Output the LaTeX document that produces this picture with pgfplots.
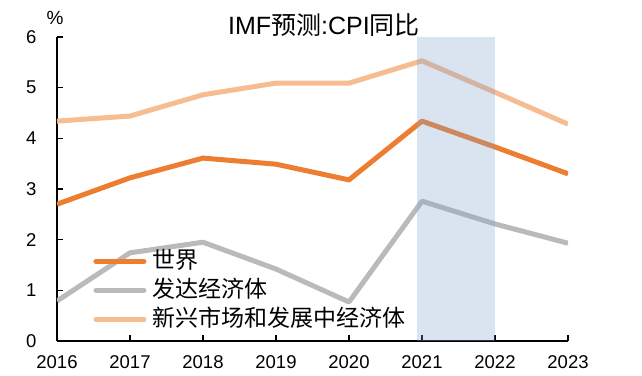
\documentclass[border=0pt]{standalone}
\usepackage{pgfplots}
\pgfplotsset{compat=1.18}
\usepackage{fontspec}
\setmainfont{Liberation Sans}
\newfontfamily\cjk{Noto Sans CJK SC}
\definecolor{cWorld}{HTML}{ED7D31}
\definecolor{cAdv}{HTML}{BABABA}
\definecolor{cEm}{HTML}{F6BD93}
\definecolor{cShade}{RGB}{132,162,205}
\begin{document}
\begin{tikzpicture}
\begin{axis}[
  scale only axis, width=511pt, height=304pt,
  xmin=2016, xmax=2023, ymin=0, ymax=6,
  xtick={2016,2017,2018,2019,2020,2021,2022,2023},
  ytick={0,1,2,3,4,5,6},
  x tick label style={/pgf/number format/1000 sep={}},
  axis x line*=bottom, axis y line*=left,
  axis line style={line width=1.6pt, -},
  tick style={line width=1.6pt, black},
  tick align=inside, major tick length=6pt,
  /pgf/number format/assume math mode=true,
  tick label style={font=\fontsize{18.5}{20}\selectfont},
  yticklabel style={xshift=-17pt},
  xticklabel style={yshift=-11pt},
  legend style={draw=none, fill=none, at={(0.065,0.317)}, anchor=north west,
    font=\cjk\fontsize{23}{29}\selectfont, cells={anchor=west},
    nodes={inner sep=1pt, text height=21pt, text depth=6pt},
    row sep=0pt, column sep=5pt},
  legend image code/.code={\draw[#1, line width=5pt, line cap=round] (2.5pt,0pt) -- (50.5pt,0pt);},
]
\addplot[cWorld, line width=5pt, line join=round] coordinates {
 (2016,2.70) (2017,3.22) (2018,3.61) (2019,3.49) (2020,3.18) (2021,4.34) (2022,3.83) (2023,3.30)};
\addlegendentry{世界}
\addplot[cAdv, line width=5pt, line join=round] coordinates {
 (2016,0.79) (2017,1.74) (2018,1.95) (2019,1.42) (2020,0.77) (2021,2.76) (2022,2.31) (2023,1.93)};
\addlegendentry{发达经济体}
\addplot[cEm, line width=5pt, line join=round] coordinates {
 (2016,4.34) (2017,4.44) (2018,4.86) (2019,5.09) (2020,5.09) (2021,5.53) (2022,4.91) (2023,4.28)};
\addlegendentry{新兴市场和发展中经济体}
\fill[cShade, opacity=0.3] (axis cs:2020.93,0) rectangle (axis cs:2022,6);
\end{axis}
\node[font=\fontsize{25}{27}\selectfont] at (267pt,316pt) {IMF{\cjk 预测}:CPI{\cjk 同比}};
\node[font=\fontsize{19}{22}\selectfont] at (-2pt,323pt) {\%};
\pgfresetboundingbox
\path[use as bounding box] (-57pt,-34pt) rectangle (585pt,341pt);
\end{tikzpicture}
\end{document}
